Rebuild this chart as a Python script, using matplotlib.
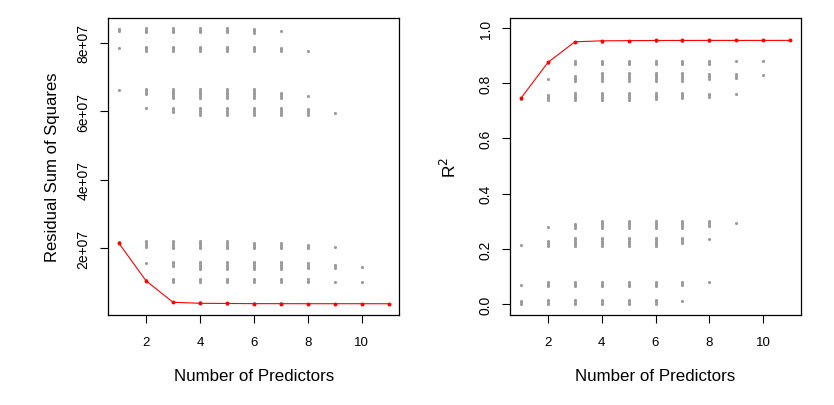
import matplotlib.pyplot as plt
import numpy as np

plt.rcParams['font.family'] = ['Liberation Sans', 'DejaVu Sans']

# RSS of the models, in millions, grouped by number of predictors
rss_k1 = [84.2, 83.8, 83.5, 78.5, 66.2, 21.7]
rss_k2 = [84.3, 83.9, 83.5, 83.2, 78.9, 78.5, 78.1, 77.6,
          66.5, 66.0, 65.5, 65.0, 60.9,
          22.0, 21.5, 21.0, 20.5, 15.7, 10.6]
rss_k3 = [84.3, 83.9, 83.5, 83.2, 78.9, 78.5, 78.1, 77.6,
          66.5, 66.0, 65.5, 65.0, 64.5, 64.0, 61.1, 60.6, 60.2, 59.7,
          22.0, 21.5, 21.0, 20.5, 20.0, 16.1, 15.6, 15.2, 14.7,
          11.1, 10.6, 10.0, 4.3]
rss_k4 = [84.3, 83.9, 83.5, 83.2, 78.9, 78.5, 78.1, 77.6,
          66.5, 66.0, 65.5, 65.0, 64.5, 64.0, 61.1, 60.6, 60.0, 59.5, 59.0,
          22.0, 21.5, 21.0, 20.5, 20.0, 16.1, 15.6, 15.0, 14.5, 13.9,
          11.1, 10.6, 10.0, 4.2, 3.9]
rss_k5 = [84.3, 83.9, 83.5, 83.2, 78.9, 78.5, 78.1, 77.6,
          66.5, 66.0, 65.5, 65.0, 64.5, 64.0, 61.1, 60.6, 60.0, 59.5, 59.0,
          22.0, 21.5, 21.0, 20.5, 20.0, 16.1, 15.6, 15.0, 14.5, 13.9,
          11.1, 10.6, 10.0, 4.1, 3.85]
rss_k6 = [84.2, 83.8, 83.4, 83.0, 78.9, 78.5, 78.1, 77.6,
          66.5, 66.0, 65.5, 65.0, 64.5, 64.0, 61.1, 60.6, 60.0, 59.5, 59.0,
          21.6, 21.2, 20.8, 20.4, 20.0, 16.1, 15.6, 15.0, 14.5, 13.9,
          11.1, 10.6, 10.0, 4.0, 3.8]
rss_k7 = [83.4, 78.6, 78.1, 77.5, 65.5, 65.0, 64.5, 64.0,
          61.1, 60.6, 60.0, 59.5, 59.0,
          21.4, 20.9, 20.4, 20.0, 16.1, 15.6, 15.0, 14.5, 13.9,
          11.1, 10.6, 10.0, 3.9, 3.8]
rss_k8 = [77.7, 64.5, 60.6, 60.1, 59.5, 59.0, 21.0, 20.5, 20.1,
          15.6, 15.1, 14.6, 14.2, 10.9, 10.5, 10.1, 3.85]
rss_k9 = [59.4, 20.3, 15.2, 14.7, 14.2, 10.2, 3.8]
rss_k10 = [14.5, 10.1, 3.8]
rss_k11 = []

best_rss = [21.4, 10.5, 4.23, 3.92, 3.87, 3.82, 3.81, 3.80, 3.80, 3.80, 3.79]
tss = 84.34

all_rss = [rss_k1, rss_k2, rss_k3, rss_k4, rss_k5, rss_k6,
           rss_k7, rss_k8, rss_k9, rss_k10, rss_k11]
n_pred = np.arange(1, 12)

fig = plt.figure(figsize=(8.34, 4.06), dpi=100)
W, H = 834, 406
ax1 = fig.add_axes([108.3 / W, 1 - 316 / H, 291 / W, 296.7 / H])
ax2 = fig.add_axes([510.3 / W, 1 - 316 / H, 290.5 / W, 296.7 / H])

gray = '#9a9a9a'
for k, vals in zip(n_pred, all_rss):
    v = np.array(vals) * 1e6
    ax1.scatter(np.full(len(v), k), v, s=5, color=gray, linewidths=0)
    ax2.scatter(np.full(len(v), k), 1 - v / (tss * 1e6), s=5, color=gray, linewidths=0)

best = np.array(best_rss) * 1e6
ax1.plot(n_pred, best, color='red', lw=0.8, marker='o', ms=2.8, mew=0)
ax2.plot(n_pred, 1 - best / (tss * 1e6), color='red', lw=0.8, marker='o', ms=2.8, mew=0)

ynarrow = ['Liberation Sans Narrow', 'Liberation Sans', 'DejaVu Sans']
for ax in (ax1, ax2):
    ax.set_xlim(0.6, 11.4)
    ax.set_xticks([2, 4, 6, 8, 10])
    ax.tick_params(axis='both', length=5.8, width=0.8, labelsize=9.5)
    ax.tick_params(axis='x', pad=9)
    ax.tick_params(axis='y', pad=7)
    for s in ax.spines.values():
        s.set_linewidth(0.9)
    ax.set_xlabel('Number of Predictors', fontsize=12.2, labelpad=15)

ax1.set_ylim(0.5e6, 87.2e6)
ax1.set_yticks([2e7, 4e7, 6e7, 8e7])
ax1.set_yticklabels(['2e+07', '4e+07', '6e+07', '8e+07'], va='center',
                    rotation=90, family=ynarrow, fontsize=10)
ax1.set_ylabel('Residual Sum of Squares', fontsize=12, labelpad=12)

ax2.set_ylim(-0.039, 1.035)
ax2.set_yticks([0.0, 0.2, 0.4, 0.6, 0.8, 1.0])
ax2.set_yticklabels(['0.0', '0.2', '0.4', '0.6', '0.8', '1.0'], va='center',
                    rotation=90, family=ynarrow, fontsize=10)
ax2.set_ylabel('R$^2$', fontsize=12.5, labelpad=14)

fig.savefig('out.png', dpi=100)
